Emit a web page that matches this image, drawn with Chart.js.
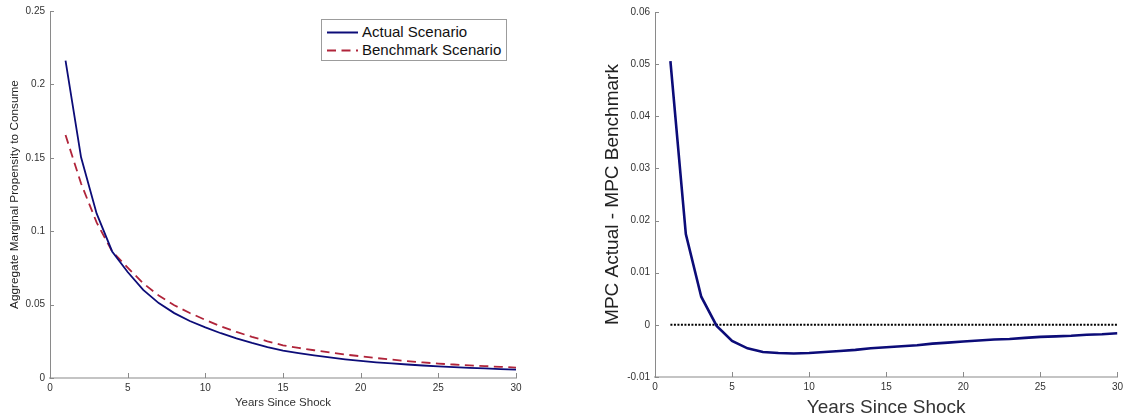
<!DOCTYPE html>
<html>
<head>
<meta charset="utf-8">
<script src="https://cdn.jsdelivr.net/npm/chart.js@4/dist/chart.umd.min.js"></script>
<style>
  body { margin: 0; background: #fff; width: 1127px; height: 419px; position: relative; overflow: hidden; }
  canvas { position: absolute; top: 0; }
  #mpc-chart { left: 0; }
  #diff-chart { left: 580px; }
  #legend {
    position: absolute; left: 321px; top: 19px; width: 184px; height: 40px;
    border: 1px solid #9c9c9c; background: #fff;
    font-family: "Liberation Sans", Arial, sans-serif; font-size: 15px; color: #111;
  }
  #legend .row { position: absolute; left: 0; height: 18px; line-height: 18px; }
  #legend svg { position: absolute; left: 5px; top: 0; }
  #legend span { position: absolute; left: 40px; white-space: nowrap; }
</style>
</head>
<body>
<canvas id="mpc-chart" width="560" height="419"></canvas>
<canvas id="diff-chart" width="547" height="419"></canvas>
<div id="legend">
  <div class="row" style="top:3px"><svg width="32" height="18"><line x1="0" y1="9.5" x2="31" y2="9.5" stroke="#0c0c78" stroke-width="2"/></svg><span>Actual Scenario</span></div>
  <div class="row" style="top:21px"><svg width="32" height="18"><line x1="0" y1="9.5" x2="31" y2="9.5" stroke="#b0243a" stroke-width="2" stroke-dasharray="9,5.5"/></svg><span>Benchmark Scenario</span></div>
</div>
<script>
const YEARS = [1, 2, 3, 4, 5, 6, 7, 8, 9, 10, 11, 12, 13, 14, 15, 16, 17, 18, 19, 20, 21, 22, 23, 24, 25, 26, 27, 28, 29, 30];

const ACTUAL_MPC = [
  0.2162, 0.1503, 0.1121, 0.0862, 0.0722, 0.0600, 0.0510, 0.0442, 0.0388, 0.0345,
  0.0305, 0.0270, 0.0239, 0.0211, 0.0186, 0.0169, 0.0154, 0.0140, 0.0127, 0.0116,
  0.0107, 0.0099, 0.0092, 0.0085, 0.0079, 0.0074, 0.0069, 0.0065, 0.0061, 0.0057,
];

const BENCHMARK_MPC = [
  0.1655, 0.1325, 0.1060, 0.0862, 0.0752, 0.0645, 0.0562, 0.0496, 0.0443, 0.0396,
  0.0352, 0.0314, 0.0280, 0.0250, 0.0223, 0.0205, 0.0189, 0.0174, 0.0160, 0.0148,
  0.0136, 0.0125, 0.0115, 0.0106, 0.0098, 0.0092, 0.0086, 0.0081, 0.0076, 0.0071,
];

const MPC_DIFF = [
  0.0506, 0.0174, 0.0054, -0.0002, -0.0031, -0.0045, -0.0052, -0.0054, -0.0055, -0.0054,
  -0.0052, -0.0050, -0.0048, -0.0045, -0.0043, -0.0041, -0.0039, -0.0036, -0.0034, -0.0032,
  -0.0030, -0.0028, -0.0027, -0.0025, -0.0023, -0.0022, -0.0021, -0.0019, -0.0018, -0.0016,
];

const ZERO_LINE = YEARS.map(() => 0);

const FONT = '"Liberation Sans", Arial, Helvetica, sans-serif';
const NAVY = '#0c0c78';
const CRIMSON = '#b0243a';

// pair x values with a series for a linear x axis
function points(values) {
  return YEARS.map((year, i) => ({ x: year, y: values[i] }));
}

function tickLabel(value) {
  return Number(value.toFixed(4)).toString();
}

// matlab style ticks that point into the plot
const inwardTicks = {
  id: 'inwardTicks',
  afterDatasetsDraw(chart) {
    const ctx = chart.ctx;
    const { x, y } = chart.scales;
    ctx.save();
    ctx.strokeStyle = '#8a8a8a';
    ctx.lineWidth = 1;
    ctx.beginPath();
    x.ticks.forEach((t) => {
      const px = Math.round(x.getPixelForValue(t.value)) + 0.5;
      ctx.moveTo(px, y.bottom);
      ctx.lineTo(px, y.bottom - 5);
    });
    y.ticks.forEach((t) => {
      const py = Math.round(y.getPixelForValue(t.value)) + 0.5;
      ctx.moveTo(x.left, py);
      ctx.lineTo(x.left + 4, py);
    });
    ctx.stroke();
    ctx.restore();
  },
};

function axes(opts) {
  return {
    x: {
      type: 'linear',
      min: 0,
      max: 30,
      afterFit: (scale) => { scale.height = opts.xHeight; },
      grid: { display: false, drawTicks: false },
      border: { display: true, color: '#c4c4c4', width: 2 },
      ticks: { stepSize: 5, padding: 4, color: '#333', font: { family: FONT, size: 10 }, maxRotation: 0 },
      title: {
        display: true,
        text: 'Years Since Shock',
        color: '#333',
        font: { family: FONT, size: opts.titleSize },
        padding: { top: 0, bottom: opts.xTitlePad },
      },
    },
    y: {
      min: opts.yMin,
      max: opts.yMax,
      afterFit: (scale) => { scale.width = opts.yWidth; },
      grid: { display: false, drawTicks: false },
      border: { display: true, color: '#8a8a8a', width: 1 },
      ticks: { stepSize: opts.yStep, padding: 5, color: '#333', font: { family: FONT, size: 10 }, callback: tickLabel },
      title: {
        display: true,
        text: opts.yTitle,
        color: '#222',
        font: { family: FONT, size: opts.yTitleSize },
        padding: { top: opts.yTitlePad, bottom: 0 },
      },
    },
  };
}

// Render MPC levels chart
new Chart(document.getElementById('mpc-chart'), {
  type: 'line',
  data: {
    datasets: [
      {
        label: 'Actual Scenario',
        data: points(ACTUAL_MPC),
        borderColor: NAVY,
        borderWidth: 1.8,
        pointRadius: 0,
        tension: 0,
      },
      {
        label: 'Benchmark Scenario',
        data: points(BENCHMARK_MPC),
        borderColor: CRIMSON,
        borderWidth: 1.8,
        borderDash: [9, 5.5],
        pointRadius: 0,
        tension: 0,
      },
    ],
  },
  options: {
    responsive: false,
    animation: false,
    layout: { padding: { left: 0, top: 11, right: 44, bottom: 0 } },
    plugins: { legend: { display: false }, tooltip: { enabled: false } },
    scales: axes({
      xHeight: 41, yWidth: 50, yMin: 0, yMax: 0.25, yStep: 0.05,
      titleSize: 11.5, xTitlePad: 9,
      yTitle: 'Aggregate Marginal Propensity to Consume', yTitleSize: 11.8, yTitlePad: 7.5,
    }),
  },
  plugins: [inwardTicks],
});

// Render difference chart
new Chart(document.getElementById('diff-chart'), {
  type: 'line',
  data: {
    datasets: [
      {
        label: 'MPC Actual - MPC Benchmark',
        data: points(MPC_DIFF),
        borderColor: NAVY,
        borderWidth: 2.6,
        pointRadius: 0,
        tension: 0,
      },
      {
        label: 'Zero',
        data: points(ZERO_LINE),
        borderColor: '#000',
        borderWidth: 2,
        borderDash: [2, 1.5],
        pointRadius: 0,
        tension: 0,
      },
    ],
  },
  options: {
    responsive: false,
    animation: false,
    layout: { padding: { left: 0, top: 12, right: 8, bottom: 0 } },
    plugins: { legend: { display: false }, tooltip: { enabled: false } },
    scales: axes({
      xHeight: 42, yWidth: 75, yMin: -0.01, yMax: 0.06, yStep: 0.01,
      titleSize: 19, xTitlePad: 0,
      yTitle: 'MPC Actual - MPC Benchmark', yTitleSize: 19, yTitlePad: 21,
    }),
  },
  plugins: [inwardTicks],
});
</script>
</body>
</html>
